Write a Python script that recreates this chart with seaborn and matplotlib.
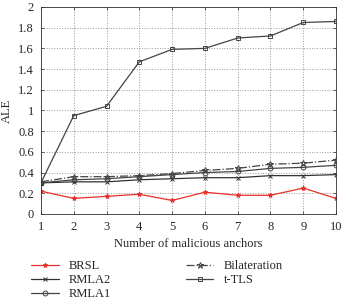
import matplotlib
matplotlib.use("Agg")
import matplotlib.pyplot as plt
import seaborn as sns
import pandas as pd

# values
anchors = [1, 2, 3, 4, 5, 6, 7, 8, 9, 10]
brsl = [0.22, 0.15, 0.17, 0.19, 0.13, 0.21, 0.18, 0.18, 0.25, 0.15]
rmla2 = [0.30, 0.31, 0.31, 0.33, 0.34, 0.35, 0.35, 0.37, 0.37, 0.38]
rmla1 = [0.30, 0.33, 0.34, 0.36, 0.38, 0.40, 0.41, 0.44, 0.45, 0.47]
bilateration = [0.31, 0.36, 0.36, 0.37, 0.39, 0.42, 0.44, 0.48, 0.49, 0.52]
ttls = [0.30, 0.95, 1.04, 1.47, 1.59, 1.60, 1.70, 1.72, 1.85, 1.86]

series = {"BRSL": brsl, "RMLA2": rmla2, "RMLA1": rmla1,
          "Bilateration": bilateration, "t-TLS": ttls}
df = pd.DataFrame(
    [(a, name, v) for name, vals in series.items() for a, v in zip(anchors, vals)],
    columns=["anchors", "method", "ALE"],
)

sns.set_theme(style="ticks")
plt.rcParams["font.family"] = ["Liberation Serif", "DejaVu Serif"]

fig = plt.figure(figsize=(3.44, 3.03), dpi=100)
ax = fig.add_axes([0.119, 0.294, 0.858, 0.683])

styles = {
    "BRSL": dict(color="#e8302a", marker="*", linestyle="-", markersize=3.5, linewidth=0.9),
    "RMLA2": dict(color="#333333", marker="x", linestyle="-", markersize=2.5, linewidth=0.9),
    "RMLA1": dict(color="#444444", marker="o", linestyle="-", markersize=3.5, linewidth=0.9),
    "Bilateration": dict(color="#444444", marker="*", linestyle="-.", markersize=4.5, linewidth=0.9),
    "t-TLS": dict(color="#444444", marker="s", linestyle="-", markersize=3.5, linewidth=0.9),
}
for name in series:
    sub = df[df["method"] == name]
    st = styles[name]
    face = st["color"] if name == "BRSL" else "none"
    sns.lineplot(data=sub, x="anchors", y="ALE", ax=ax, label=name,
                 markeredgewidth=0.7, markeredgecolor=st["color"],
                 markerfacecolor=face, **st)

ax.set_xlim(1, 10)
ax.set_ylim(0, 2)
ax.set_xticks(anchors)
ax.set_yticks([0, 0.2, 0.4, 0.6, 0.8, 1, 1.2, 1.4, 1.6, 1.8, 2])
ax.set_yticklabels(["0", "0.2", "0.4", "0.6", "0.8", "1", "1.2", "1.4", "1.6", "1.8", "2"])
ax.tick_params(direction="in", labelsize=9, length=2, width=0.5, top=True, right=True, pad=5)
ax.grid(True, ls=":", color="#999999", lw=0.7)
for s in ax.spines.values():
    s.set_linewidth(0.6)
    s.set_color("#333333")
ax.set_xlabel("Number of malicious anchors", fontsize=9, labelpad=4)
ax.set_ylabel("ALE", fontsize=9)

handles, labels = ax.get_legend_handles_labels()
ax.legend(handles, labels, loc="upper left", bbox_to_anchor=(-0.05, -0.2),
          ncol=2, frameon=False, fontsize=9, handlelength=2.2,
          columnspacing=6.0, labelspacing=0.15, borderaxespad=0)

fig.savefig("out.png", dpi=100)
